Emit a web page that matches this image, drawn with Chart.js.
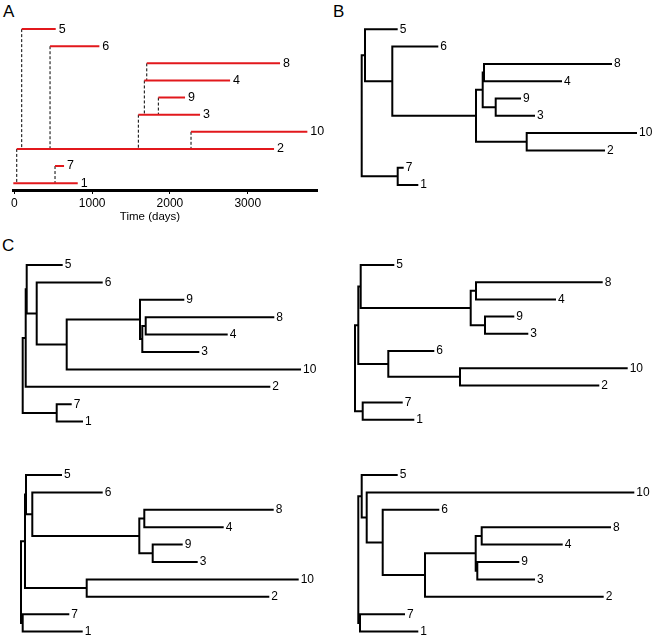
<!DOCTYPE html>
<html><head><meta charset="utf-8">
<script src="https://cdn.jsdelivr.net/npm/chart.js@4/dist/chart.umd.min.js"></script>
<style>
body{margin:0;background:#fff;width:652px;height:638px;position:relative;overflow:hidden;font-family:"Liberation Sans",Arial,sans-serif;}
canvas{position:absolute;}
.panel{position:absolute;font-size:17px;line-height:1;color:#000;font-family:"Liberation Sans",Arial,sans-serif;}
</style></head><body>
<div class="panel" style="left:3px;top:3px">A</div>
<div class="panel" style="left:333px;top:3px">B</div>
<div class="panel" style="left:2px;top:237px">C</div>
<canvas id="cA" width="330" height="230" style="left:0;top:0"></canvas>
<canvas id="cB"></canvas>
<canvas id="cC1"></canvas>
<canvas id="cC2"></canvas>
<canvas id="cC3"></canvas>
<canvas id="cC4"></canvas>
<script>
// ---------- Panel A: infection timeline ----------
const hostOrder      = ['5','6','8','4','9','3','10','2','7','1'];
const infectionStart = [95, 459, 1702, 1671, 1851, 1594, 2271, 31, 523, -13];
const infectionEnd   = [532, 1093, 3415, 2773, 2194, 2387, 3766, 3338, 639, 815];
const infectedBy     = ['2','2','4','3','3','2','2','1','1', null];
const timeTicks      = [0, 1000, 2000, 3000];

// ---------- Panel B: tree (x = distance from root) ----------
const treeB_tips      = ['5','6','8','4','9','3','10','2','7','1'];
const treeB_tipDepth  = [35.0, 75.6, 249.3, 199.3, 158.3, 172.3, 274.3, 242.3, 41.0, 55.6];
const treeB_nodes     = ['r','a','b','c','d','f','h','e','g'];
const treeB_nodeDepth = [0, 3.3, 30.6, 114.3, 121, 122.3, 134, 165, 36];
const treeB_kids      = [['a','g'],['5','b'],['6','c'],['d','e'],['f','h'],['8','4'],['9','3'],['10','2'],['7','1']];

// ---------- Panel C: four trees ----------
const treeC1_tips      = ['5','6','9','8','4','3','10','2','7','1'];
const treeC1_tipDepth  = [39, 79, 160.6, 250.6, 204, 175.6, 277.3, 246.6, 48, 59.3];
const treeC1_nodes     = ['r','R','q','s','t','u','v','w','g'];
const treeC1_nodeDepth = [0, 3, 4, 14, 44, 117.3, 119.6, 123, 34];
const treeC1_kids      = [['R','g'],['q','2'],['5','s'],['6','t'],['u','10'],['9','v'],['w','3'],['8','4'],['7','1']];

const treeC2_tips      = ['5','8','4','9','3','6','10','2','7','1'];
const treeC2_tipDepth  = [38.3, 246.7, 200, 158.3, 172.3, 78.3, 271.7, 243.3, 46.7, 58.3];
const treeC2_nodes     = ['r','p','a','c','f','h','b','e','g'];
const treeC2_nodeDepth = [0, 3.3, 5.7, 115.7, 121, 130, 33.3, 105, 7.7];
const treeC2_kids      = [['p','g'],['a','b'],['5','c'],['f','h'],['8','4'],['9','3'],['6','e'],['10','2'],['7','1']];

const treeC3_tips      = ['5','6','8','4','9','3','10','2','7','1'];
const treeC3_tipDepth  = [40, 80.7, 251.7, 201.7, 160.7, 175.7, 276.7, 247.3, 47.3, 60.7];
const treeC3_nodes     = ['r','q','a','b','c','f','h','e','g'];
const treeC3_nodeDepth = [0, 4, 5, 11.3, 118.3, 123.3, 131.7, 65.7, 1.7];
const treeC3_kids      = [['q','g'],['a','e'],['5','b'],['6','c'],['f','h'],['8','4'],['9','3'],['10','2'],['7','1']];

const treeC4_tips      = ['5','10','6','8','4','9','3','2','7','1'];
const treeC4_tipDepth  = [38.4, 275, 80, 251.7, 203.4, 160, 175.7, 244.4, 45.7, 59];
const treeC4_nodes     = ['r','a','a2','b','d','c','f','h','g'];
const treeC4_nodeDepth = [0, 3.4, 8.4, 24.4, 66.7, 117.4, 123.4, 119, 1.7];
const treeC4_kids      = [['a','g'],['5','a2'],['10','b'],['6','d'],['c','2'],['f','h'],['8','4'],['9','3'],['7','1']];

const FONT = '"Liberation Sans", Arial, sans-serif';
Chart.defaults.font.family = FONT;
Chart.defaults.color = '#000';

function labelPlugin(items, fontSize, extra){
  return {
    id: 'tipLabels',
    afterDatasetsDraw(chart){
      const ctx = chart.ctx, xs = chart.scales.x, ys = chart.scales.y;
      ctx.save();
      ctx.font = fontSize + 'px ' + FONT;
      ctx.fillStyle = '#000';
      ctx.textBaseline = 'middle';
      ctx.textAlign = 'left';
      items.forEach(it => ctx.fillText(it.text, xs.getPixelForValue(it.x) + 3, ys.getPixelForValue(it.y)));
      if (extra) extra(ctx, chart);
      ctx.restore();
    }
  };
}

// ----- Panel A chart -----
(function(){
  const rowOf = h => hostOrder.indexOf(h) + 1;
  const red = [], dashed = [], labels = [];
  hostOrder.forEach((h, i) => {
    const r = i + 1;
    red.push({x: infectionStart[i], y: r}, {x: infectionEnd[i], y: r}, {x: infectionEnd[i], y: null});
    if (infectedBy[i]) {
      dashed.push({x: infectionStart[i], y: r}, {x: infectionStart[i], y: rowOf(infectedBy[i])}, {x: infectionStart[i], y: null});
    }
    labels.push({text: h, x: infectionEnd[i], y: r});
  });
  new Chart(document.getElementById('cA'), {
    type: 'scatter',
    data: { datasets: [
      {data: red, showLine: true, borderColor: 'rgb(226,24,28)', borderWidth: 2, pointRadius: 0, spanGaps: false, borderCapStyle: 'butt'},
      {data: dashed, showLine: true, borderColor: '#000', borderWidth: 1, borderDash: [3,2], pointRadius: 0, spanGaps: false}
    ]},
    options: {
      responsive: false, animation: false, events: [],
      layout: {padding: {left: 13, right: 13, top: 12, bottom: 0}},
      plugins: {legend: {display: false}, tooltip: {enabled: false}},
      scales: {
        x: {type: 'linear', min: -17, max: 3890,
            afterFit: s => { s.height = 40; },
            afterBuildTicks: s => { s.ticks = timeTicks.map(v => ({value: v})); },
            ticks: {font: {size: 12}, color: '#000', padding: 2, maxRotation: 0, callback: v => String(v)},
            grid: {display: true, drawOnChartArea: false, drawTicks: true, tickLength: 4, color: '#000', lineWidth: 1},
            border: {display: true, color: '#000', width: 3}},
        y: {display: false, min: 0, max: 10.4, reverse: true}
      }
    },
    plugins: [labelPlugin(labels, 12.5, (ctx) => {
      ctx.font = '11.5px ' + FONT; ctx.textAlign = 'center';
      ctx.fillText('Time (days)', 150, 217);
    })]
  });
})();

// ----- Trees -----
function makeTree(id, tips, tipDepth, nodes, nodeDepth, kids, place, fontSize){
  const pos = {};
  tips.forEach((t, i) => pos[t] = {x: tipDepth[i], y: i + 1});
  const idx = {}; nodes.forEach((n, i) => idx[n] = i);
  function get(n){
    if (pos[n]) return pos[n];
    const i = idx[n], a = get(kids[i][0]), b = get(kids[i][1]);
    pos[n] = {x: nodeDepth[i], y: (a.y + b.y) / 2};
    return pos[n];
  }
  const pts = [];
  nodes.forEach((n, i) => {
    const p = get(n), a = get(kids[i][0]), b = get(kids[i][1]);
    pts.push({x: a.x, y: a.y}, {x: p.x, y: a.y}, {x: p.x, y: b.y}, {x: b.x, y: b.y}, {x: b.x, y: null});
  });
  const labels = tips.map((t, i) => ({text: t, x: tipDepth[i], y: i + 1}));
  const cv = document.getElementById(id);
  cv.width = place.width; cv.height = place.height;
  cv.style.left = place.left + 'px'; cv.style.top = place.top + 'px';
  const xmin = place.left - place.rootX;
  const ymin = 1 + (place.top - place.firstY) / place.rowGap;
  const ymax = 1 + (place.top + place.height - place.firstY) / place.rowGap;
  new Chart(cv, {
    type: 'scatter',
    data: {datasets: [{data: pts, showLine: true, borderColor: '#000', borderWidth: 2, pointRadius: 0,
                       spanGaps: false, borderCapStyle: 'square', borderJoinStyle: 'miter'}]},
    options: {
      responsive: false, animation: false, events: [],
      layout: {padding: 0},
      plugins: {legend: {display: false}, tooltip: {enabled: false}},
      scales: {
        x: {type: 'linear', display: false, min: xmin, max: xmin + place.width},
        y: {type: 'linear', display: false, min: ymin, max: ymax, reverse: true}
      }
    },
    plugins: [labelPlugin(labels, fontSize)]
  });
}

makeTree('cB', treeB_tips, treeB_tipDepth, treeB_nodes, treeB_nodeDepth, treeB_kids,
  {left: 352, top: 10, width: 300, height: 195, rootX: 361.7, firstY: 29.3, rowGap: 17.3}, 12);
makeTree('cC1', treeC1_tips, treeC1_tipDepth, treeC1_nodes, treeC1_nodeDepth, treeC1_kids,
  {left: 12, top: 245, width: 318, height: 192, rootX: 22.7, firstY: 265, rowGap: 17.4}, 12);
makeTree('cC2', treeC2_tips, treeC2_tipDepth, treeC2_nodes, treeC2_nodeDepth, treeC2_kids,
  {left: 345, top: 245, width: 307, height: 192, rootX: 355, firstY: 265, rowGap: 17.2}, 12);
makeTree('cC3', treeC3_tips, treeC3_tipDepth, treeC3_nodes, treeC3_nodeDepth, treeC3_kids,
  {left: 10, top: 455, width: 320, height: 183, rootX: 21, firstY: 475, rowGap: 17.4}, 12);
makeTree('cC4', treeC4_tips, treeC4_tipDepth, treeC4_nodes, treeC4_nodeDepth, treeC4_kids,
  {left: 348, top: 455, width: 304, height: 183, rootX: 358.3, firstY: 475, rowGap: 17.4}, 12);
</script>
</body></html>
